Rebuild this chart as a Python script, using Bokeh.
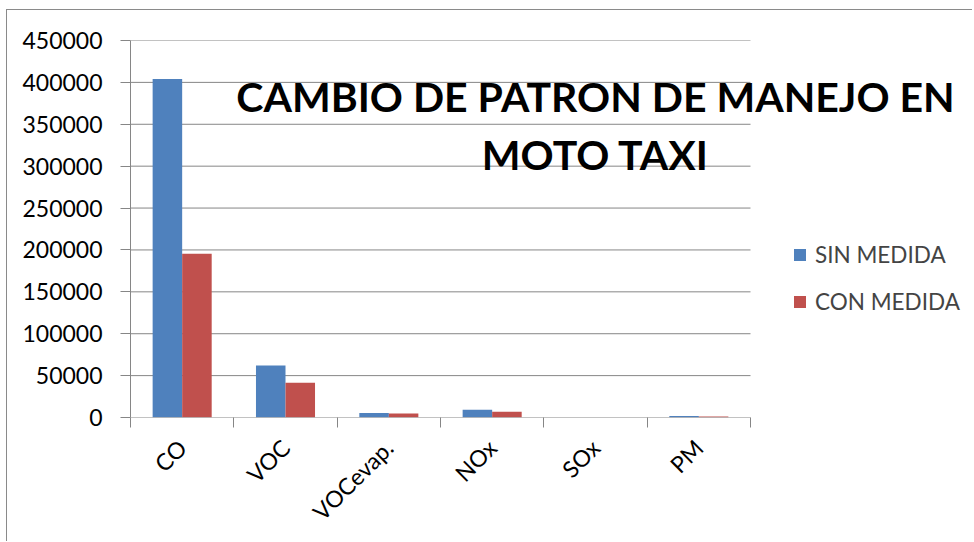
import math
from bokeh.plotting import figure
from bokeh.models import Range1d, FixedTicker, Label, Legend, LegendItem, BasicTickFormatter
from bokeh.embed import file_html
from bokeh.resources import INLINE

categories = ["CO", "VOC", "VOCevap.", "NOx", "SOx", "PM"]
sin_medida = [404000, 62000, 5500, 9200, 60, 1900]
con_medida = [195500, 41500, 4800, 6800, 40, 1100]
series_names = ["SIN MEDIDA", "CON MEDIDA"]
y_ticks = [0, 50000, 100000, 150000, 200000, 250000, 300000, 350000, 400000, 450000]
title_lines = ["CAMBIO DE PATRON DE MANEJO EN", "MOTO TAXI"]

W, H = 966, 532
LEFT, RIGHT, TOP, BOTTOM = 123, 4, 30, 125
PLOT_W = 620          # pixel width of the category area
FRAME_W = W - LEFT - RIGHT
FRAME_H = H - TOP - BOTTOM
FONT = "Lato"
BLUE = "#4F81BD"
RED = "#C0504D"
GRID = "#868686"

n = len(categories)
x_end = n * FRAME_W / PLOT_W
ymax = y_ticks[-1]

p = figure(width=W, height=H, output_backend="svg", toolbar_location=None,
           x_range=Range1d(0, x_end), y_range=Range1d(0, ymax),
           min_border_left=LEFT, min_border_right=RIGHT, min_border_top=TOP,
           min_border_bottom=BOTTOM)
p.styles = {"margin-left": "6px", "margin-top": "9px",
            "border-left": "1px solid #8a8a8a", "border-top": "1px solid #8a8a8a"}
p.outline_line_color = None
p.background_fill_color = "white"
p.border_fill_color = "white"
p.xgrid.visible = False
p.ygrid.visible = False

# horizontal gridlines limited to the category area
p.segment(x0=[0] * (len(y_ticks) - 1), x1=[n] * (len(y_ticks) - 1),
          y0=y_ticks[1:], y1=y_ticks[1:], line_color=GRID, line_width=1)

bw = 1.0 / 3.5
xs_blue = [i + 0.5 - bw / 2 for i in range(n)]
xs_red = [i + 0.5 + bw / 2 for i in range(n)]
r1 = p.vbar(x=xs_blue, top=sin_medida, width=bw, fill_color=BLUE, line_color=None)
r2 = p.vbar(x=xs_red, top=con_medida, width=bw, fill_color=RED, line_color=None)

# category axis baseline
p.segment(x0=[0], x1=[n], y0=[0], y1=[0], line_color=GRID, line_width=1)

# y axis
p.yaxis.ticker = FixedTicker(ticks=y_ticks)
p.yaxis.formatter = BasicTickFormatter(use_scientific=False)
p.yaxis.axis_line_color = GRID
p.yaxis.major_tick_line_color = GRID
p.yaxis.major_tick_out = 10
p.yaxis.major_tick_in = 0
p.yaxis.minor_tick_line_color = None
p.yaxis.major_label_standoff = 18
p.yaxis.major_label_text_font = FONT
p.yaxis.major_label_text_font_size = "23px"
p.yaxis.major_label_text_color = "black"

# x axis
centers = [i + 0.5 for i in range(n)]
p.xaxis.ticker = FixedTicker(ticks=centers, minor_ticks=list(range(n + 1)))
p.xaxis.major_label_overrides = {c: name for c, name in zip(centers, categories)}
p.xaxis.major_tick_line_color = None
p.xaxis.major_tick_out = 0
p.xaxis.major_tick_in = 0
p.xaxis.minor_tick_line_color = GRID
p.xaxis.minor_tick_out = 10
p.xaxis.minor_tick_in = 0
p.xaxis.axis_line_color = None
p.xaxis.major_label_orientation = math.pi / 4
p.xaxis.major_label_standoff = 16
p.xaxis.major_label_text_font = FONT
p.xaxis.major_label_text_font_size = "23px"
p.xaxis.major_label_text_color = "black"

legend = Legend(items=[LegendItem(label=series_names[0], renderers=[r1]),
                       LegendItem(label=series_names[1], renderers=[r2])],
                location=(662, 102), padding=0, margin=0, spacing=20,
                glyph_width=15, glyph_height=15, label_height=20,
                label_text_font=FONT, label_text_font_size="22.5px",
                label_standoff=8, background_fill_alpha=0, border_line_color=None)
p.add_layout(legend)

px_per_val = FRAME_H / ymax
for line, base_px in zip(title_lines, [96, 154]):
    y_val = (TOP + FRAME_H - (base_px - 10)) / px_per_val
    p.add_layout(Label(x=4.5, y=y_val, text=line, text_align="center",
                       text_baseline="alphabetic", text_font=FONT,
                       text_font_style="bold", text_font_size="41px", text_color="black"))

open("out.html", "w").write(file_html(p, INLINE))
